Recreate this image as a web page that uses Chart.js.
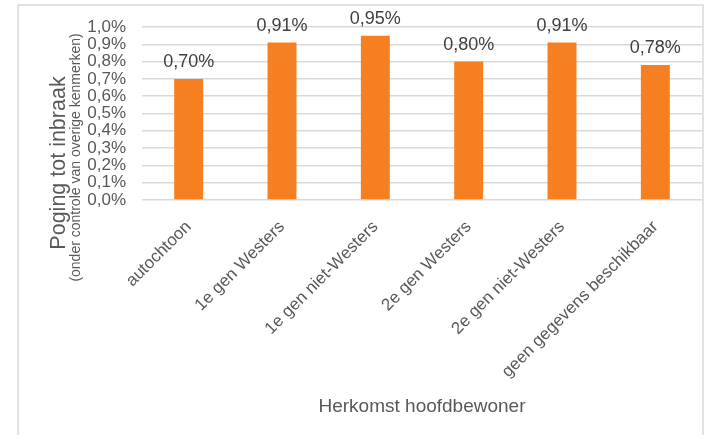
<!DOCTYPE html>
<html>
<head>
<meta charset="utf-8">
<script src="https://cdn.jsdelivr.net/npm/chart.js@4/dist/chart.umd.min.js"></script>
<style>
  html, body { margin: 0; padding: 0; background: #ffffff; }
  canvas { display: block; }
</style>
</head>
<body>
<canvas id="c" width="705" height="435"></canvas>
<script>
const categories = ["autochtoon", "1e gen Westers", "1e gen niet-Westers", "2e gen Westers", "2e gen niet-Westers", "geen gegevens beschikbaar"];
const values = [0.70, 0.91, 0.95, 0.80, 0.91, 0.78];
const valueLabels = ["0,70%", "0,91%", "0,95%", "0,80%", "0,91%", "0,78%"];
const yTitle = "Poging tot inbraak";
const ySubtitle = "(onder controle van overige kenmerken)";
const xTitle = "Herkomst hoofdbewoner";

const FONT = "'Liberation Sans', Arial, sans-serif";

const extras = {
  id: 'extras',
  beforeDraw(chart) {
    const ctx = chart.ctx;
    ctx.save();
    ctx.strokeStyle = '#d9d9d9';
    ctx.lineWidth = 1.5;
    ctx.beginPath();
    ctx.moveTo(18, 440);
    ctx.lineTo(18, 5);
    ctx.lineTo(703, 5);
    ctx.lineTo(703, 440);
    ctx.stroke();
    ctx.restore();
  },
  afterDatasetsDraw(chart) {
    const ctx = chart.ctx;
    ctx.save();
    const meta = chart.getDatasetMeta(0);
    ctx.fillStyle = '#404040';
    ctx.font = '18px ' + FONT;
    ctx.textAlign = 'center';
    ctx.textBaseline = 'alphabetic';
    meta.data.forEach((bar, i) => {
      ctx.fillText(valueLabels[i], bar.x, bar.y - 12);
    });
    ctx.fillStyle = '#595959';
    ctx.textBaseline = 'middle';
    ctx.translate(59, 163);
    ctx.rotate(-Math.PI / 2);
    ctx.font = '21.5px ' + FONT;
    ctx.fillText(yTitle, 0, 0);
    ctx.restore();
    ctx.save();
    ctx.fillStyle = '#595959';
    ctx.textAlign = 'center';
    ctx.textBaseline = 'middle';
    ctx.translate(76, 157.5);
    ctx.rotate(-Math.PI / 2);
    ctx.font = '14px ' + FONT;
    ctx.fillText(ySubtitle, 0, 0);
    ctx.restore();
  }
};

new Chart(document.getElementById('c'), {
  type: 'bar',
  data: {
    labels: categories,
    datasets: [{
      data: values,
      backgroundColor: '#F57F21',
      borderWidth: 0,
      categoryPercentage: 1.0,
      barPercentage: 0.31
    }]
  },
  options: {
    responsive: false,
    animation: false,
    devicePixelRatio: 1,
    layout: { padding: { top: 27, right: 3, left: 0, bottom: 0 } },
    plugins: {
      legend: { display: false },
      tooltip: { enabled: false }
    },
    scales: {
      y: {
        min: 0,
        max: 1.0,
        afterFit(scale) { scale.width = 142; },
        border: { display: false },
        grid: { color: '#d9d9d9', lineWidth: 1.5, drawTicks: false },
        ticks: {
          stepSize: 0.1,
          autoSkip: false,
          padding: 16,
          color: '#595959',
          font: { family: FONT, size: 17 },
          callback: (v) => v.toFixed(1).replace('.', ',') + '%'
        }
      },
      x: {
        afterFit(scale) { scale.height = 235; },
        border: { display: false },
        grid: { display: false, drawTicks: false },
        ticks: {
          minRotation: 45,
          maxRotation: 45,
          autoSkip: false,
          padding: 17,
          color: '#595959',
          font: { family: FONT, size: 17 }
        },
        title: {
          display: true,
          text: xTitle,
          color: '#595959',
          font: { family: FONT, size: 19 },
          padding: { top: 0, bottom: 17 }
        }
      }
    }
  },
  plugins: [extras]
});
</script>
</body>
</html>
